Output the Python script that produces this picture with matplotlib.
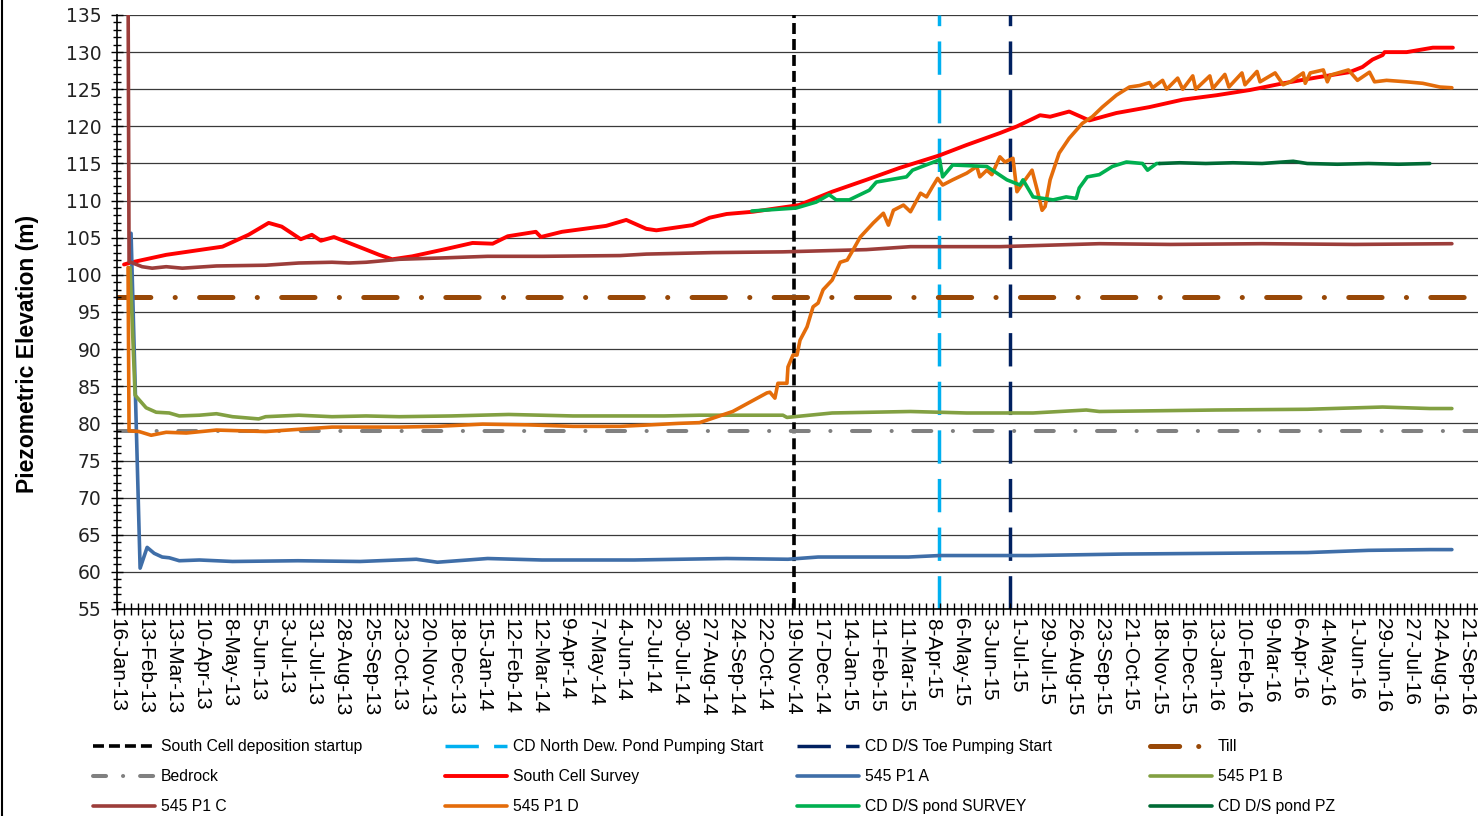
import matplotlib
matplotlib.use('Agg')
import matplotlib.pyplot as plt
from matplotlib.lines import Line2D
from matplotlib import font_manager
import pandas as pd

# ------------------------------------------------------------------ data
startup_date = '2014-11-21'          # South Cell deposition startup
north_pond_date = '2015-04-14'       # CD North Dew. Pond Pumping Start
toe_pump_date = '2015-06-24'         # CD D/S Toe Pumping Start
till_elev = 97.0
bedrock_elev = 79.0

survey_dates = ['2013-01-23', '2013-01-31', '2013-03-06', '2013-05-01', '2013-05-27', '2013-06-16',
                '2013-06-29', '2013-07-18', '2013-07-29', '2013-08-07', '2013-08-20', '2013-09-04',
                '2013-09-21', '2013-10-04', '2013-10-17', '2013-11-06', '2013-12-10', '2014-01-05',
                '2014-01-25', '2014-02-09', '2014-03-09', '2014-03-14', '2014-04-04', '2014-05-18',
                '2014-06-07', '2014-06-27', '2014-07-07', '2014-08-12', '2014-08-29', '2014-09-15',
                '2014-10-11', '2014-11-26', '2014-12-29', '2015-02-01', '2015-03-06', '2015-04-15',
                '2015-05-12', '2015-06-14', '2015-07-01', '2015-07-24', '2015-08-03', '2015-08-22',
                '2015-09-11', '2015-10-08', '2015-11-10', '2015-12-13', '2016-01-16', '2016-02-18',
                '2016-03-22', '2016-04-25', '2016-05-27', '2016-06-09', '2016-06-19', '2016-06-29',
                '2016-07-01', '2016-07-23', '2016-08-18', '2016-09-07']
survey_vals = [101.4, 101.7, 102.7, 103.8, 105.4, 107.0,
               106.5, 104.8, 105.4, 104.6, 105.1, 104.3,
               103.4, 102.7, 102.1, 102.5, 103.5, 104.3,
               104.2, 105.2, 105.8, 105.1, 105.8, 106.6,
               107.4, 106.2, 106.0, 106.7, 107.7, 108.2,
               108.5, 109.4, 111.2, 112.8, 114.4, 116.1,
               117.5, 119.1, 120.0, 121.5, 121.3, 122.0,
               120.8, 121.8, 122.6, 123.6, 124.2, 124.9,
               125.8, 126.6, 127.3, 128.0, 129.0, 129.6,
               130.0, 130.0, 130.6, 130.6]

p1a_dates = ['2013-01-30', '2013-02-08', '2013-02-15', '2013-02-22', '2013-03-02', '2013-03-09',
             '2013-03-19', '2013-04-08', '2013-05-11', '2013-07-15', '2013-09-15', '2013-11-10',
             '2013-12-01', '2014-01-20', '2014-03-15', '2014-06-15', '2014-09-15', '2014-11-15',
             '2014-12-15', '2015-03-15', '2015-04-15', '2015-07-15', '2015-10-15', '2016-01-15',
             '2016-04-15', '2016-06-15', '2016-08-15', '2016-09-06']
p1a_vals = [105.6, 60.5, 63.3, 62.5, 62.0, 61.9,
            61.5, 61.6, 61.4, 61.5, 61.4, 61.7,
            61.3, 61.8, 61.6, 61.6, 61.8, 61.7,
            62.0, 62.0, 62.2, 62.2, 62.4, 62.5,
            62.6, 62.9, 63.0, 63.0]

p1b_dates = ['2013-01-29', '2013-02-03', '2013-02-14', '2013-02-24', '2013-03-09', '2013-03-19',
             '2013-04-08', '2013-04-25', '2013-05-11', '2013-06-06', '2013-06-13', '2013-07-16',
             '2013-08-18', '2013-09-21', '2013-10-24', '2013-12-15', '2014-02-10', '2014-04-15',
             '2014-07-15', '2014-08-19', '2014-11-10', '2014-11-14', '2014-12-29', '2015-03-17',
             '2015-05-12', '2015-07-17', '2015-09-08', '2015-09-21', '2016-01-15', '2016-04-15',
             '2016-06-29', '2016-08-15', '2016-09-06']
p1b_vals = [101.0, 83.8, 82.1, 81.5, 81.4, 81.0,
            81.1, 81.3, 80.9, 80.6, 80.9, 81.1,
            80.9, 81.0, 80.9, 81.0, 81.2, 81.0,
            81.0, 81.1, 81.1, 80.8, 81.4, 81.6,
            81.4, 81.4, 81.8, 81.6, 81.8, 81.9,
            82.2, 82.0, 82.0]

p1c_dates = ['2013-01-27', '2013-01-28', '2013-02-10', '2013-02-20', '2013-03-06', '2013-03-22',
             '2013-04-25', '2013-06-13', '2013-07-16', '2013-08-18', '2013-09-04', '2013-09-21',
             '2013-10-24', '2013-12-10', '2014-01-20', '2014-03-16', '2014-06-01', '2014-06-27',
             '2014-09-01', '2014-11-10', '2015-02-01', '2015-03-17', '2015-06-14', '2015-09-21',
             '2015-12-01', '2016-03-01', '2016-06-01', '2016-09-06']
p1c_vals = [140.0, 101.8, 101.1, 100.9, 101.1, 100.9,
            101.2, 101.3, 101.6, 101.7, 101.6, 101.7,
            102.1, 102.3, 102.5, 102.5, 102.6, 102.8,
            103.0, 103.1, 103.4, 103.8, 103.8, 104.2,
            104.1, 104.2, 104.1, 104.2]

p1d_dates = ['2013-01-27', '2013-01-28', '2013-02-07', '2013-02-19', '2013-03-06', '2013-03-26',
             '2013-04-25', '2013-06-13', '2013-08-18', '2013-10-24', '2013-12-01', '2014-01-15',
             '2014-03-01', '2014-04-15', '2014-06-01', '2014-07-01', '2014-07-29', '2014-08-19',
             '2014-09-21', '2014-10-25', '2014-10-28', '2014-11-02', '2014-11-05', '2014-11-14',
             '2014-11-15', '2014-11-20', '2014-11-24', '2014-11-27', '2014-12-04', '2014-12-10',
             '2014-12-15', '2014-12-20', '2014-12-29', '2015-01-06', '2015-01-13', '2015-01-19',
             '2015-01-26', '2015-02-08', '2015-02-18', '2015-02-23', '2015-02-28', '2015-03-10',
             '2015-03-17', '2015-03-27', '2015-04-02', '2015-04-08', '2015-04-13', '2015-04-18',
             '2015-04-28', '2015-05-12', '2015-05-22', '2015-05-25', '2015-06-01', '2015-06-06',
             '2015-06-14', '2015-06-19', '2015-06-27', '2015-07-01', '2015-07-07', '2015-07-16',
             '2015-07-21', '2015-07-26', '2015-07-29', '2015-08-03', '2015-08-12', '2015-08-22',
             '2015-09-04', '2015-09-14', '2015-09-24', '2015-10-08', '2015-10-21', '2015-10-31',
             '2015-11-10', '2015-11-13', '2015-11-23', '2015-11-27', '2015-12-08', '2015-12-13',
             '2015-12-23', '2015-12-26', '2016-01-09', '2016-01-12', '2016-01-24', '2016-01-28',
             '2016-02-10', '2016-02-13', '2016-02-25', '2016-02-28', '2016-03-14', '2016-03-22',
             '2016-03-29', '2016-04-11', '2016-04-13', '2016-04-18', '2016-05-01', '2016-05-05',
             '2016-05-08', '2016-05-26', '2016-06-04', '2016-06-16', '2016-06-21', '2016-07-03',
             '2016-07-23', '2016-08-08', '2016-08-25', '2016-09-06']
p1d_vals = [101.0, 79.0, 78.9, 78.4, 78.8, 78.7,
            79.1, 78.9, 79.5, 79.5, 79.6, 79.9,
            79.8, 79.6, 79.6, 79.8, 80.0, 80.1,
            81.6, 84.1, 84.2, 83.4, 85.4, 85.4,
            87.6, 89.2, 89.2, 91.2, 93.0, 95.7,
            96.2, 98.0, 99.3, 101.7, 102.0, 103.4,
            105.1, 107.0, 108.3, 106.7, 108.7, 109.4,
            108.5, 111.0, 110.5, 111.9, 113.0, 112.1,
            112.8, 113.7, 114.6, 113.2, 114.1, 113.5,
            115.9, 115.2, 115.7, 111.2, 112.4, 114.1,
            111.5, 108.7, 109.2, 112.8, 116.4, 118.4,
            120.4, 121.3, 122.6, 124.2, 125.3, 125.5,
            125.9, 125.2, 126.2, 125.0, 126.5, 125.0,
            126.8, 125.0, 126.8, 125.1, 127.0, 125.3,
            127.2, 125.6, 127.4, 126.0, 127.2, 125.6,
            126.0, 127.2, 125.8, 127.2, 127.6, 126.0,
            126.9, 127.6, 126.2, 127.3, 126.0, 126.2,
            126.0, 125.8, 125.3, 125.2]

pond_survey_dates = ['2014-10-10', '2014-11-23', '2014-12-13', '2014-12-26', '2015-01-02', '2015-01-15',
                     '2015-02-04', '2015-02-11', '2015-03-13', '2015-03-19', '2015-04-15', '2015-04-18',
                     '2015-04-28', '2015-06-01', '2015-06-21', '2015-07-04', '2015-07-07', '2015-07-17',
                     '2015-08-06', '2015-08-19', '2015-08-29', '2015-09-01', '2015-09-09', '2015-09-21',
                     '2015-10-04', '2015-10-18', '2015-11-03', '2015-11-08', '2015-11-17', '2015-11-20']
pond_survey_vals = [108.6, 109.0, 109.8, 110.8, 110.1, 110.1,
                    111.4, 112.5, 113.2, 114.1, 115.5, 113.2,
                    114.8, 114.6, 112.8, 112.1, 112.8, 110.5,
                    110.1, 110.5, 110.3, 111.7, 113.2, 113.5,
                    114.6, 115.2, 115.0, 114.1, 115.0, 115.0]

pond_pz_dates = ['2015-11-20', '2015-12-10', '2016-01-05', '2016-02-01', '2016-03-01', '2016-04-01',
                 '2016-04-15', '2016-05-15', '2016-06-15', '2016-07-15', '2016-08-15']
pond_pz_vals = [115.0, 115.1, 115.0, 115.1, 115.0, 115.3,
                115.0, 114.9, 115.0, 114.9, 115.0]

legend_labels = ['South Cell deposition startup', 'CD North Dew. Pond Pumping Start',
                 'CD D/S Toe Pumping Start', 'Till',
                 'Bedrock', 'South Cell Survey', '545 P1 A', '545 P1 B',
                 '545 P1 C', '545 P1 D', 'CD D/S pond SURVEY', 'CD D/S pond PZ']

# ------------------------------------------------------------------ styling
plt.rcParams['lines.scale_dashes'] = False

def pick_font(cands):
    names = {f.name for f in font_manager.fontManager.ttflist}
    for c in cands:
        if c in names:
            return c
    return 'DejaVu Sans'

ARIAL = pick_font(['Liberation Sans', 'Arial', 'DejaVu Sans'])

C_BLACK = '#000000'
C_LBLUE = '#00B0F0'
C_NAVY = '#002060'
C_TILL = '#984807'
C_BED = '#808080'
C_RED = '#FF0000'
C_A = '#3F6EA8'
C_B = '#82A042'
C_C = '#9C3D3A'
C_D = '#E46C0A'
C_SURV = '#00B050'
C_PZ = '#006B35'

LW = 2.6
styles = [
    dict(color=C_BLACK, lw=2.6, dashes=(7.9, 3.6), dash_capstyle='butt'),
    dict(color=C_LBLUE, lw=2.5, dashes=(24, 11), dash_capstyle='butt'),
    dict(color=C_NAVY, lw=2.5, dashes=(24, 11), dash_capstyle='butt'),
    dict(color=C_TILL, lw=3.6, dashes=(24, 17.5, 0.1, 17.5), dash_capstyle='round'),
    dict(color=C_BED, lw=2.9, dashes=(13, 15.5, 0.1, 15.5), dash_capstyle='round'),
    dict(color=C_RED, lw=2.8, solid_capstyle='round'),
    dict(color=C_A, lw=LW, solid_capstyle='round'),
    dict(color=C_B, lw=LW, solid_capstyle='round'),
    dict(color=C_C, lw=LW, solid_capstyle='round'),
    dict(color=C_D, lw=LW, solid_capstyle='round'),
    dict(color=C_SURV, lw=LW, solid_capstyle='round'),
    dict(color=C_PZ, lw=LW, solid_capstyle='round'),
]
# the legend keys of the two dash-dot lines use a shorter pattern
legend_styles = list(styles)
legend_styles[3] = dict(color=C_TILL, lw=3.6, dashes=(21, 13.7, 0.1, 13.7), dash_capstyle='round')
legend_styles[4] = dict(color=C_BED, lw=2.9, dashes=(9.4, 12.2, 0.1, 12.2), dash_capstyle='round')

fig = plt.figure(figsize=(14.78, 8.16), dpi=100)
ax = fig.add_axes([117 / 1478, 1 - 609 / 816, (1478 - 117) / 1478, (609 - 15) / 816])

ymin, ymax = 55, 135
x_left = pd.Timestamp('2013-01-16')
x_right = pd.Timestamp('2016-10-02')

# gridlines
for yv in range(ymin, ymax + 1, 5):
    ax.axhline(yv, color='#3a3a3a', lw=0.9, zorder=0.5)

# vertical event lines
for dte, st in zip([startup_date, north_pond_date, toe_pump_date], styles[:3]):
    t = pd.Timestamp(dte)
    ax.plot([t, t], [ymin, ymax], zorder=1, **st)

# horizontal references
ax.plot([x_left, x_right], [till_elev, till_elev], zorder=1.1, **styles[3])
ax.plot([x_left, x_right], [bedrock_elev, bedrock_elev], zorder=1.2, **styles[4])

series = [(survey_dates, survey_vals), (p1a_dates, p1a_vals), (p1b_dates, p1b_vals),
          (p1c_dates, p1c_vals), (p1d_dates, p1d_vals), (pond_survey_dates, pond_survey_vals),
          (pond_pz_dates, pond_pz_vals)]
for i, (d, v) in enumerate(series):
    ax.plot(pd.to_datetime(d), v, zorder=2 + i, **styles[5 + i])

ax.set_xlim(x_left, x_right)
ax.set_ylim(ymin, ymax)

# ticks
major_x = pd.date_range('2013-01-16', '2016-09-21', freq='28D')
minor_x = pd.date_range('2013-01-16', '2016-09-28', freq='7D')
ax.set_xticks(major_x)
ax.set_xticks(minor_x, minor=True)
ax.set_xticklabels([f"{t.day}-{t.strftime('%b-%y')}" for t in major_x],
                   rotation=270, fontsize=15, family=ARIAL, va='top', ha='center')
ax.set_yticks(range(ymin, ymax + 1, 5))
ax.set_yticks(range(ymin, ymax + 1, 1), minor=True)
for lab in ax.get_yticklabels():
    lab.set_fontfamily('DejaVu Sans')
    lab.set_fontsize(13.5)
    lab.set_color('#222222')
ax.tick_params(axis='x', which='both', direction='inout', length=8.5, width=1.0, pad=2, colors='black')
ax.tick_params(axis='y', which='major', direction='inout', length=8, width=1.0, pad=7)
ax.tick_params(axis='y', which='minor', direction='inout', length=6, width=1.0)

for s in ['top', 'right']:
    ax.spines[s].set_visible(False)
for s in ['left', 'bottom']:
    ax.spines[s].set_linewidth(1.2)
    ax.spines[s].set_color('black')
    ax.spines[s].set_zorder(20)

fig.text(28 / 1478, 1 - 354 / 816, 'Piezometric Elevation (m)', rotation=90, ha='center', va='center',
         fontsize=16.5, fontweight='bold', family=ARIAL)

# legend : 4 columns placed explicitly
handles = [Line2D([0], [0], **st) for st in legend_styles]
col_x = [93, 445, 797, 1150]
fs_pt = 11.3
fs_px = fs_pt * 100 / 72
for c in range(4):
    idx = [c, c + 4, c + 8]
    fig.legend([handles[i] for i in idx], [legend_labels[i] for i in idx],
               loc='upper left', bbox_to_anchor=(col_x[c] / 1478, 1 - 739 / 816),
               frameon=False, borderpad=0, borderaxespad=0,
               handlelength=62 / fs_px, handletextpad=6 / fs_px, labelspacing=0.96,
               prop={'family': ARIAL, 'size': fs_pt})

# left border of the picture
fig.add_artist(Line2D([0.0012, 0.0012], [0, 1], transform=fig.transFigure, color='black', lw=1.5))

fig.savefig('out.png', dpi=100)
